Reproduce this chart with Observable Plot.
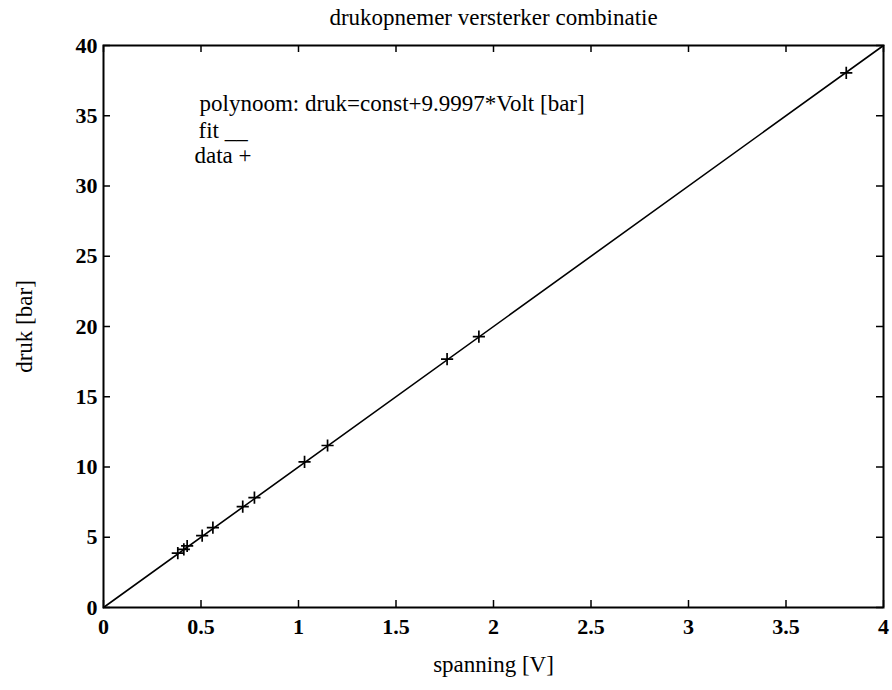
<!DOCTYPE html>
<html>
<head>
<meta charset="utf-8">
<script src="https://cdn.jsdelivr.net/npm/d3@7"></script>
<script src="https://cdn.jsdelivr.net/npm/@observablehq/plot@0.6"></script>
<style>
  html, body { margin: 0; padding: 0; background: white; }
  #chart svg, #chart svg text, #chart svg g { font-family: "Liberation Serif", "Times New Roman", serif !important; }
  #chart svg [aria-label="x-axis tick label"] text,
  #chart svg [aria-label="y-axis tick label"] text { font-weight: bold; }
</style>
</head>
<body>
<div id="chart"></div>
<script>
// ---- data ----
const titleText = "drukopnemer versterker combinatie";
const xLabel = "spanning [V]";
const yLabel = "druk [bar]";
const legendLines = ["polynoom: druk=const+9.9997*Volt [bar]", "fit __", "data +"];

const xTicks = [0, 0.5, 1, 1.5, 2, 2.5, 3, 3.5, 4];
const yTicks = [0, 5, 10, 15, 20, 25, 30, 35, 40];

const voltData = [0.381, 0.412, 0.429, 0.506, 0.561, 0.714, 0.774, 1.031, 1.149, 1.762, 1.925, 3.809];
const drukData = [3.87, 4.14, 4.38, 5.12, 5.68, 7.18, 7.82, 10.36, 11.53, 17.68, 19.28, 38.05];

const fitVolt = [0, 4];
const fitDruk = [0, 39.9988];

// ---- layout ----
const W = 892, H = 690;
const mL = 103, mR = 9, mT = 45, mB = 83;
const innerW = W - mL - mR, innerH = H - mT - mB;
const tickLen = 7;
const FS = 23, TFS = 22;
const FF = "Liberation Serif";

const points = voltData.map((v, i) => ({volt: v, druk: drukData[i]}));
const fit = fitVolt.map((v, i) => ({volt: v, druk: fitDruk[i]}));

const txt = {fill: "black", fontSize: FS, fontFamily: FF};
const tk = {fill: "black", fontSize: TFS, fontFamily: FF, fontWeight: "bold"};

const chart = Plot.plot({
  width: W, height: H,
  marginLeft: mL, marginRight: mR, marginTop: mT, marginBottom: mB,
  style: {fontFamily: FF, fontSize: FS + "px", color: "black", background: "white", overflow: "visible"},
  x: {domain: [0, 4]},
  y: {domain: [0, 40]},
  marks: [
    Plot.line(fit, {x: "volt", y: "druk", stroke: "black", strokeWidth: 1.6}),
    Plot.dot(points, {x: "volt", y: "druk", symbol: "plus", r: 4, stroke: "black", strokeWidth: 1.7}),
    Plot.tickX(xTicks, {x: d => d, insetTop: innerH - tickLen, stroke: "black", strokeWidth: 1.5}),
    Plot.tickX(xTicks, {x: d => d, insetBottom: innerH - tickLen, stroke: "black", strokeWidth: 1.5}),
    Plot.tickY(yTicks, {y: d => d, insetRight: innerW - tickLen, stroke: "black", strokeWidth: 1.5}),
    Plot.tickY(yTicks, {y: d => d, insetLeft: innerW - tickLen, stroke: "black", strokeWidth: 1.5}),
    Plot.frame({stroke: "black", strokeWidth: 2}),
    Plot.axisX(xTicks, {tickSize: 0, tickPadding: 11, label: null, tickFormat: d => String(d), ...tk}),
    Plot.axisY(yTicks, {tickSize: 0, tickPadding: 6, label: null, tickFormat: d => String(d), ...tk}),
    Plot.text([titleText], {frameAnchor: "top", dy: -21, lineAnchor: "bottom", ...txt}),
    Plot.text([xLabel], {frameAnchor: "bottom", dy: 64, lineAnchor: "bottom", ...txt}),
    Plot.text([yLabel], {frameAnchor: "left", dx: -79, rotate: -90, lineAnchor: "middle", textAnchor: "middle", ...txt}),
    Plot.text([legendLines[0]], {frameAnchor: "top-left", dx: 96, dy: 65, textAnchor: "start", lineAnchor: "bottom", ...txt}),
    Plot.text([legendLines[1]], {frameAnchor: "top-left", dx: 95, dy: 92, textAnchor: "start", lineAnchor: "bottom", ...txt}),
    Plot.text([legendLines[2]], {frameAnchor: "top-left", dx: 91, dy: 117, textAnchor: "start", lineAnchor: "bottom", ...txt})
  ]
});
document.getElementById("chart").appendChild(chart);
</script>
</body>
</html>
